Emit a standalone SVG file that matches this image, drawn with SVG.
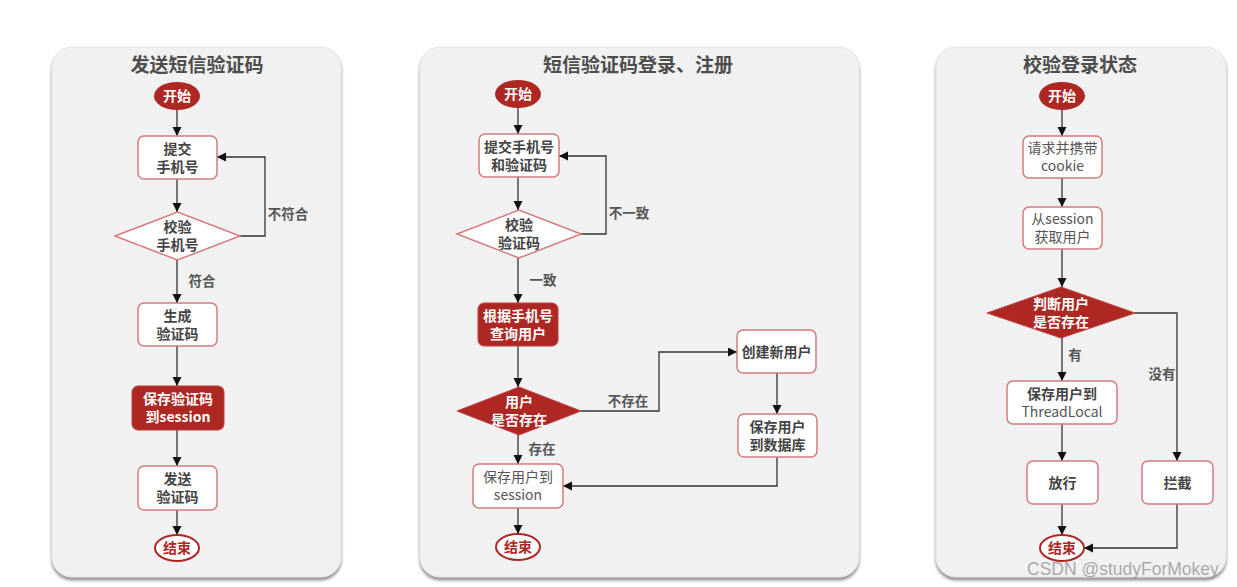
<svg xmlns="http://www.w3.org/2000/svg" width="1237" height="587" viewBox="0 0 1237 587">
<defs>
<filter id="sh" x="-10%" y="-10%" width="120%" height="120%">
<feDropShadow dx="0" dy="3" stdDeviation="1.5" flood-color="#777" flood-opacity="0.8"/>
</filter>
<marker id="ah" markerUnits="userSpaceOnUse" markerWidth="10" markerHeight="10" refX="9" refY="4.5" orient="auto">
<path d="M0,0 L9,4.5 L0,9 z" fill="#111"/>
</marker>
</defs>
<style>
.panel{fill:#f1f1f1;stroke:#e4e4e4;stroke-width:1;filter:url(#sh)}
.title{font-family:"Noto Sans CJK SC","Liberation Sans",sans-serif;font-size:19px;font-weight:bold;fill:#4d4d4d;text-anchor:middle}
.box{fill:#fff;stroke:#d47b7b;stroke-width:1.5}
.dbox{fill:#ad2723;stroke:#c04040;stroke-width:1}
.start{fill:#ad2723}
.end{fill:#fff;stroke:#ad2723;stroke-width:2}
.t{font-family:"Noto Sans CJK SC","Liberation Sans",sans-serif;font-size:14px;font-weight:bold;fill:#444;text-anchor:middle}
.tn{font-family:"Noto Sans CJK SC","Liberation Sans",sans-serif;font-size:14px;font-weight:normal;fill:#555;text-anchor:middle}
.tw{font-family:"Noto Sans CJK SC","Liberation Sans",sans-serif;font-size:14px;font-weight:bold;fill:#fff;text-anchor:middle}
.tr{font-family:"Noto Sans CJK SC","Liberation Sans",sans-serif;font-size:14px;font-weight:bold;fill:#ad2723;text-anchor:middle}
.lbl{font-family:"Noto Sans CJK SC","Liberation Sans",sans-serif;font-size:13.5px;font-weight:bold;fill:#555;text-anchor:middle}
.c{fill:none;stroke:#333;stroke-width:1.3;marker-end:url(#ah)}
</style>
<rect width="1237" height="587" fill="#fff"/>
<g id="panels">
<rect class="panel" x="52" y="47" width="289" height="530" rx="20"/>
<rect class="panel" x="420" y="47" width="439" height="530" rx="20"/>
<rect class="panel" x="936" y="47" width="290" height="530" rx="20"/>
<text class="title" x="197" y="72">发送短信验证码</text>
<text class="title" x="638" y="72">短信验证码登录、注册</text>
<text class="title" x="1080" y="72">校验登录状态</text>
</g>
<g id="connectors">
<path class="c" d="M177,110 V136"/>
<path class="c" d="M177,179 V212"/>
<path class="c" d="M240,236 H265 V157 H217"/>
<path class="c" d="M177,260 V303"/>
<path class="c" d="M177,346 V386"/>
<path class="c" d="M177,430 V466"/>
<path class="c" d="M177,510 V535"/>
<text class="lbl" x="288" y="219">不符合</text>
<text class="lbl" x="202" y="286">符合</text>

<path class="c" d="M518,108 V134"/>
<path class="c" d="M518,177 V210"/>
<path class="c" d="M581,234 H606 V156 H559"/>
<path class="c" d="M518,258 V303"/>
<path class="c" d="M518,346 V387"/>
<path class="c" d="M581,411 H659 V352 H737"/>
<path class="c" d="M777,373 V414"/>
<path class="c" d="M777,457 V486 H563"/>
<path class="c" d="M518,435 V464"/>
<path class="c" d="M518,508 V534"/>
<text class="lbl" x="629" y="218">不一致</text>
<text class="lbl" x="543" y="285">一致</text>
<text class="lbl" x="628" y="406">不存在</text>
<text class="lbl" x="542" y="454">存在</text>

<path class="c" d="M1062,110 V136"/>
<path class="c" d="M1062,178 V207"/>
<path class="c" d="M1062,249 V287"/>
<path class="c" d="M1062,338 V381"/>
<path class="c" d="M1062,424 V461"/>
<path class="c" d="M1135,313 H1177 V461"/>
<path class="c" d="M1062,504 V535"/>
<path class="c" d="M1177,504 V548 H1084"/>
<text class="lbl" x="1075" y="360">有</text>
<text class="lbl" x="1162" y="379">没有</text>
</g>

<g id="p1-start"><ellipse class="start" cx="177" cy="96" rx="23" ry="14"/><text class="tw" x="177" y="101">开始</text></g>
<g id="p1-submit"><rect class="box" x="138" y="136" width="79" height="43" rx="6"/><text class="t" x="177.5" y="153.5">提交</text><text class="t" x="177.5" y="171.5">手机号</text></g>
<g id="p1-check"><polygon class="box" points="115,236 177.5,212 240,236 177.5,260"/><text class="t" x="177.5" y="232">校验</text><text class="t" x="177.5" y="250">手机号</text></g>
<g id="p1-gen"><rect class="box" x="138" y="303" width="79" height="43" rx="6"/><text class="t" x="177.5" y="320.5">生成</text><text class="t" x="177.5" y="338.5">验证码</text></g>
<g id="p1-save"><rect class="dbox" x="132" y="386" width="92" height="44" rx="6"/><text class="tw" x="178" y="404">保存验证码</text><text class="tw" x="178" y="422">到session</text></g>
<g id="p1-send"><rect class="box" x="138" y="466" width="79" height="44" rx="6"/><text class="t" x="177.5" y="484">发送</text><text class="t" x="177.5" y="502">验证码</text></g>
<g id="p1-end"><ellipse class="end" cx="177" cy="548" rx="22" ry="13"/><text class="tr" x="177" y="553">结束</text></g>

<g id="p2-start"><ellipse class="start" cx="518" cy="94" rx="23" ry="14"/><text class="tw" x="518" y="99">开始</text></g>
<g id="p2-submit"><rect class="box" x="479" y="134" width="80" height="43" rx="6"/><text class="t" x="519" y="151.5">提交手机号</text><text class="t" x="519" y="169.5">和验证码</text></g>
<g id="p2-check"><polygon class="box" points="457,234 519,210 581,234 519,258"/><text class="t" x="519" y="230">校验</text><text class="t" x="519" y="248">验证码</text></g>
<g id="p2-query"><rect class="dbox" x="478" y="303" width="80" height="43" rx="6"/><text class="tw" x="518" y="320.5">根据手机号</text><text class="tw" x="518" y="338.5">查询用户</text></g>
<g id="p2-exists"><polygon class="dbox" points="457,411 519,387 581,411 519,435"/><text class="tw" x="519" y="407">用户</text><text class="tw" x="519" y="425">是否存在</text></g>
<g id="p2-create"><rect class="box" x="737" y="330" width="79" height="43" rx="6"/><text class="t" x="776.5" y="356.5">创建新用户</text></g>
<g id="p2-savedb"><rect class="box" x="738" y="414" width="79" height="43" rx="6"/><text class="t" x="777.5" y="431.5">保存用户</text><text class="t" x="777.5" y="449.5">到数据库</text></g>
<g id="p2-session"><rect class="box" x="473" y="464" width="90" height="44" rx="6"/><text class="tn" x="518" y="482">保存用户到</text><text class="tn" x="518" y="500">session</text></g>
<g id="p2-end"><ellipse class="end" cx="518" cy="547" rx="22" ry="13"/><text class="tr" x="518" y="552">结束</text></g>

<g id="p3-start"><ellipse class="start" cx="1062" cy="96" rx="23" ry="14"/><text class="tw" x="1062" y="101">开始</text></g>
<g id="p3-req"><rect class="box" x="1023" y="136" width="79" height="42" rx="6"/><text class="tn" x="1062.5" y="153">请求并携带</text><text class="tn" x="1062.5" y="171">cookie</text></g>
<g id="p3-get"><rect class="box" x="1023" y="207" width="79" height="42" rx="6"/><text class="tn" x="1062.5" y="224">从session</text><text class="tn" x="1062.5" y="242">获取用户</text></g>
<g id="p3-judge"><polygon class="dbox" points="987,313 1061,287 1135,313 1061,338"/><text class="tw" x="1061" y="308.5">判断用户</text><text class="tw" x="1061" y="326.5">是否存在</text></g>
<g id="p3-save"><rect class="box" x="1007" y="381" width="110" height="43" rx="6"/><text class="t" x="1062" y="398.5">保存用户到</text><text class="tn" x="1062" y="416.5">ThreadLocal</text></g>
<g id="p3-pass"><rect class="box" x="1027" y="461" width="71" height="43" rx="6"/><text class="t" x="1062.5" y="487.5">放行</text></g>
<g id="p3-block"><rect class="box" x="1142" y="461" width="71" height="43" rx="6"/><text class="t" x="1177.5" y="487.5">拦截</text></g>
<g id="p3-end"><ellipse class="end" cx="1062" cy="548" rx="22" ry="13"/><text class="tr" x="1062" y="553">结束</text></g>

<text x="1027" y="575" font-family="Liberation Sans, Arial, sans-serif" font-size="17.5" fill="#9a9a9a" fill-opacity="0.85">CSDN @studyForMokey</text>
</svg>
